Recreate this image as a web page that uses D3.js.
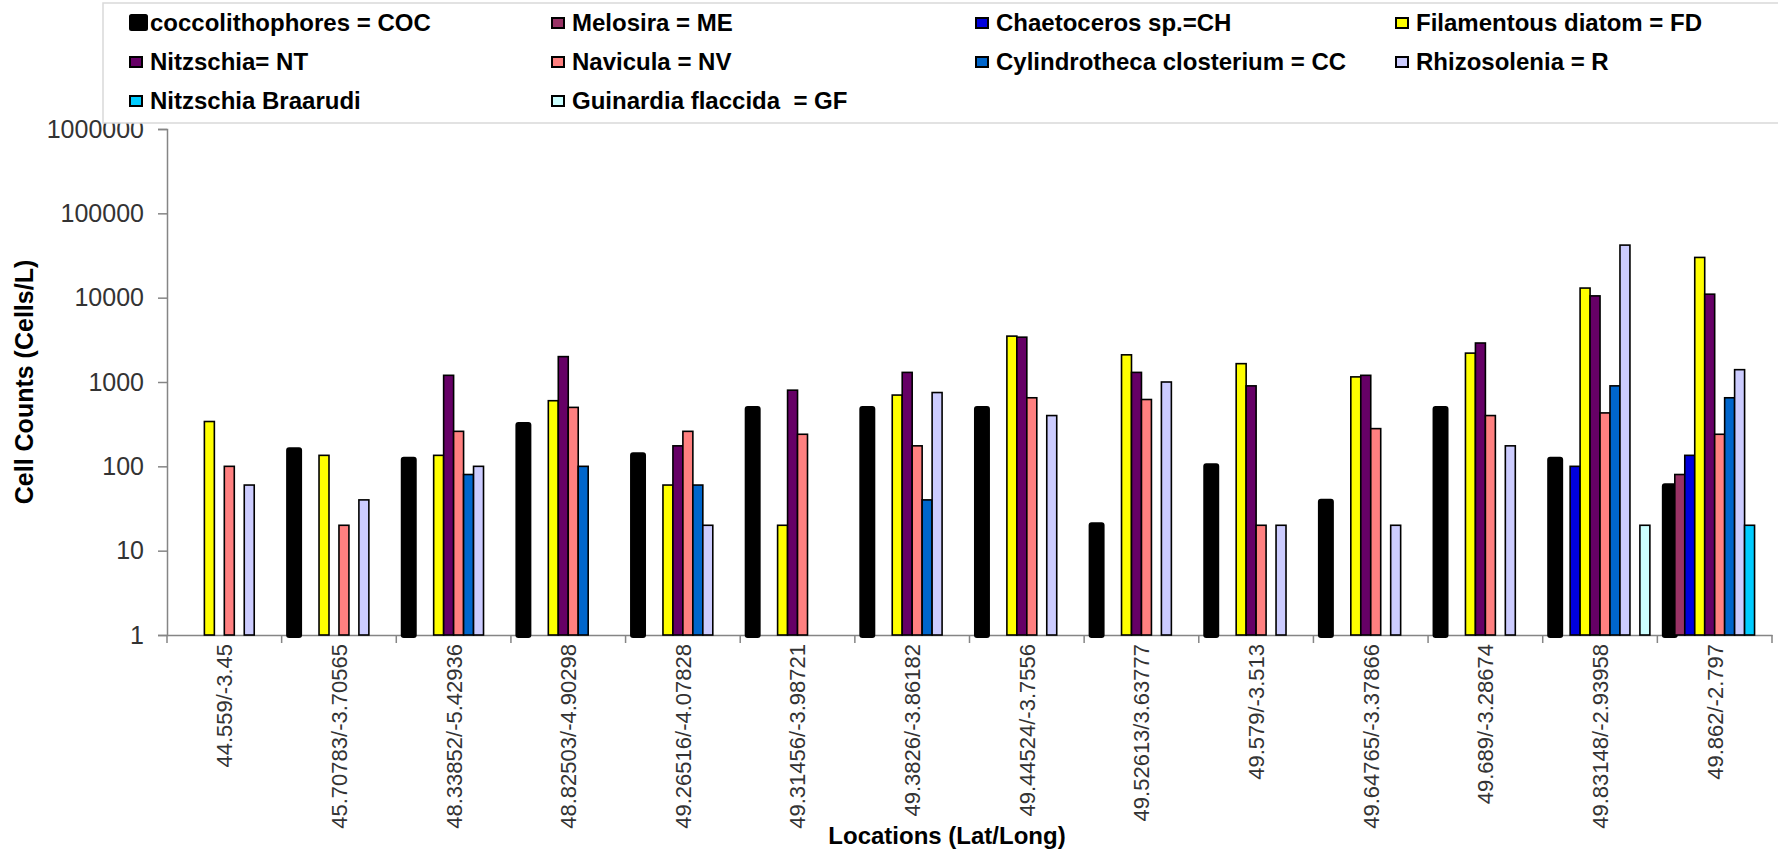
<!DOCTYPE html>
<html>
<head>
<meta charset="utf-8">
<script src="https://cdn.jsdelivr.net/npm/d3@7"></script>
<style>
  html, body { margin: 0; padding: 0; background: #fff; }
  svg { display: block; font-family: "Liberation Sans", Arial, sans-serif; }
</style>
</head>
<body>
<svg id="chart" width="1778" height="850"></svg>
<script>
// ---------------- data ----------------
const locations = [
  "44.559/-3.45", "45.70783/-3.70565", "48.33852/-5.42936", "48.82503/-4.90298",
  "49.26516/-4.07828", "49.31456/-3.98721", "49.3826/-3.86182", "49.44524/-3.7556",
  "49.52613/3.63777", "49.579/-3.513", "49.64765/-3.37866", "49.689/-3.28674",
  "49.83148/-2.93958", "49.862/-2.797"
];
const seriesKeys = ["COC", "ME", "CH", "FD", "NT", "NV", "CC", "R", "NB", "GF"];
const seriesNames = [
  "coccolithophores = COC", "Melosira = ME", "Chaetoceros sp.=CH", "Filamentous diatom = FD",
  "Nitzschia= NT", "Navicula = NV", "Cylindrotheca closterium = CC", "Rhizosolenia = R",
  "Nitzschia Braarudi", "Guinardia flaccida  = GF"
];
const seriesColors = ["#000000", "#993366", "#0000DD", "#FFFF00", "#660066",
                      "#FF8080", "#0066CC", "#CCCCFF", "#00CCFF", "#CCFFFF"];

const coc = [null, 155, 120, 310, 135, 480, 480, 480, 20, 100, 38, 480, 120, 58];
const me  = [null, null, null, null, null, null, null, null, null, null, null, null, null, 80];
const ch  = [null, null, null, null, null, null, null, null, null, null, null, null, 100, 135];
const fd  = [340, 135, 135, 600, 60, 20, 700, 3500, 2100, 1650, 1150, 2200, 13000, 30000];
const nt  = [null, null, 1200, 2000, 175, 800, 1300, 3400, 1300, 900, 1200, 2900, 10500, 11000];
const nv  = [100, 20, 260, 500, 260, 240, 175, 650, 620, 20, 280, 400, 430, 240];
const cc  = [null, null, 80, 100, 60, null, 40, null, null, null, null, null, 900, 650];
const rh  = [60, 40, 100, null, 20, null, 750, 400, 1000, 20, 20, 175, 42000, 1400];
const nb  = [null, null, null, null, null, null, null, null, null, null, null, null, null, 20];
const gf  = [null, null, null, null, null, null, null, null, null, null, null, null, 20, null];

const yTickValues = [1, 10, 100, 1000, 10000, 100000, 1000000];
const yTitle = "Cell Counts (Cells/L)";
const xTitle = "Locations (Lat/Long)";

const seriesValues = [coc, me, ch, fd, nt, nv, cc, rh, nb, gf];

// ---------------- layout ----------------
const svg = d3.select("#chart");
const plotLeft = 167, plotRight = 1772, plotTop = 129, plotBottom = 635;

const y = d3.scaleLog().domain([1, 1e6]).range([plotBottom, plotTop]);
const x0 = d3.scaleBand().domain(locations).range([plotLeft, plotRight]).paddingInner(0).paddingOuter(0);
const x1 = d3.scaleBand().domain(seriesKeys).range([0, x0.bandwidth()]).paddingInner(0).paddingOuter(0.75);
const color = d3.scaleOrdinal().domain(seriesKeys).range(seriesColors);

const axisColor = "#858585";

// ---------------- y axis ----------------
const yAxis = svg.append("g")
  .attr("transform", `translate(${plotLeft},0)`)
  .call(d3.axisLeft(y).tickValues(yTickValues).tickFormat(d3.format("d")).tickSize(9).tickPadding(14));
yAxis.select(".domain").attr("stroke", axisColor).attr("stroke-width", 1.5);
yAxis.selectAll(".tick line").attr("stroke", axisColor).attr("stroke-width", 1.5);
yAxis.selectAll(".tick text")
  .attr("font-size", 25).attr("fill", "#333").attr("font-family", '"Liberation Sans", Arial, sans-serif');

// ---------------- x axis ----------------
const xAxis = svg.append("g")
  .attr("transform", `translate(0,${plotBottom})`)
  .call(d3.axisBottom(x0).tickSize(0).tickSizeOuter(0));
xAxis.select(".domain").attr("stroke", axisColor).attr("stroke-width", 1.5);
xAxis.selectAll(".tick text")
  .attr("font-size", 22).attr("fill", "#333")
  .attr("font-family", '"Liberation Sans", Arial, sans-serif')
  .attr("text-anchor", "end")
  .attr("transform", "rotate(-90)")
  .attr("x", -9).attr("y", 0).attr("dy", "0.36em");

// boundary ticks between groups
const boundaries = locations.map(d => x0(d)).concat([x0.range()[1]]);
svg.append("g").selectAll("line").data(boundaries).join("line")
  .attr("x1", d => d).attr("x2", d => d)
  .attr("y1", plotBottom).attr("y2", plotBottom + 8)
  .attr("stroke", axisColor).attr("stroke-width", 1.5);

// ---------------- bars ----------------
const barData = [];
seriesKeys.forEach((k, si) => {
  seriesValues[si].forEach((v, li) => {
    if (v != null) barData.push({ key: k, loc: locations[li], value: v });
  });
});

const bars = svg.append("g");
bars.selectAll("rect").data(barData).join("rect")
  .attr("x", d => x0(d.loc) + x1(d.key))
  .attr("width", x1.bandwidth())
  .attr("y", d => y(d.value))
  .attr("height", d => y(1) - y(d.value))
  .attr("fill", d => color(d.key))
  .attr("stroke", "#000")
  .attr("stroke-width", d => d.key === "COC" ? 6 : 1.6)
  .attr("stroke-linejoin", d => d.key === "COC" ? "round" : "miter");

// ---------------- axis titles ----------------
svg.append("text")
  .attr("transform", `translate(33,${(plotTop + plotBottom) / 2}) rotate(-90)`)
  .attr("text-anchor", "middle")
  .attr("font-size", 25).attr("font-weight", "bold").attr("fill", "#000")
  .text(yTitle);

svg.append("text")
  .attr("x", 947).attr("y", 844)
  .attr("text-anchor", "middle")
  .attr("font-size", 24).attr("font-weight", "bold").attr("fill", "#000")
  .text(xTitle);

// ---------------- legend ----------------
const legend = svg.append("g");
legend.append("rect")
  .attr("x", 103).attr("y", 3).attr("width", 1720).attr("height", 120)
  .attr("fill", "#fff").attr("stroke", "#d9d9d9").attr("stroke-width", 1.5);

const colX = [129, 551, 975, 1395];
const rowBase = [31, 70, 109];
const items = legend.selectAll("g.item").data(seriesKeys).join("g")
  .attr("class", "item")
  .attr("transform", (d, i) => `translate(${colX[i % 4]},${rowBase[Math.floor(i / 4)]})`);

items.append("rect")
  .attr("x", d => d === "COC" ? 2.5 : 1)
  .attr("y", d => d === "COC" ? -14.5 : -13)
  .attr("width", d => d === "COC" ? 14 : 12)
  .attr("height", d => d === "COC" ? 12 : 10)
  .attr("fill", d => color(d))
  .attr("stroke", "#000")
  .attr("stroke-width", d => d === "COC" ? 5 : 2)
  .attr("stroke-linejoin", d => d === "COC" ? "round" : "miter");

items.append("text")
  .attr("x", 21).attr("y", 0)
  .attr("font-size", 24).attr("font-weight", "bold").attr("fill", "#000")
  .style("white-space", "pre")
  .text((d, i) => seriesNames[i]);
</script>
</body>
</html>
